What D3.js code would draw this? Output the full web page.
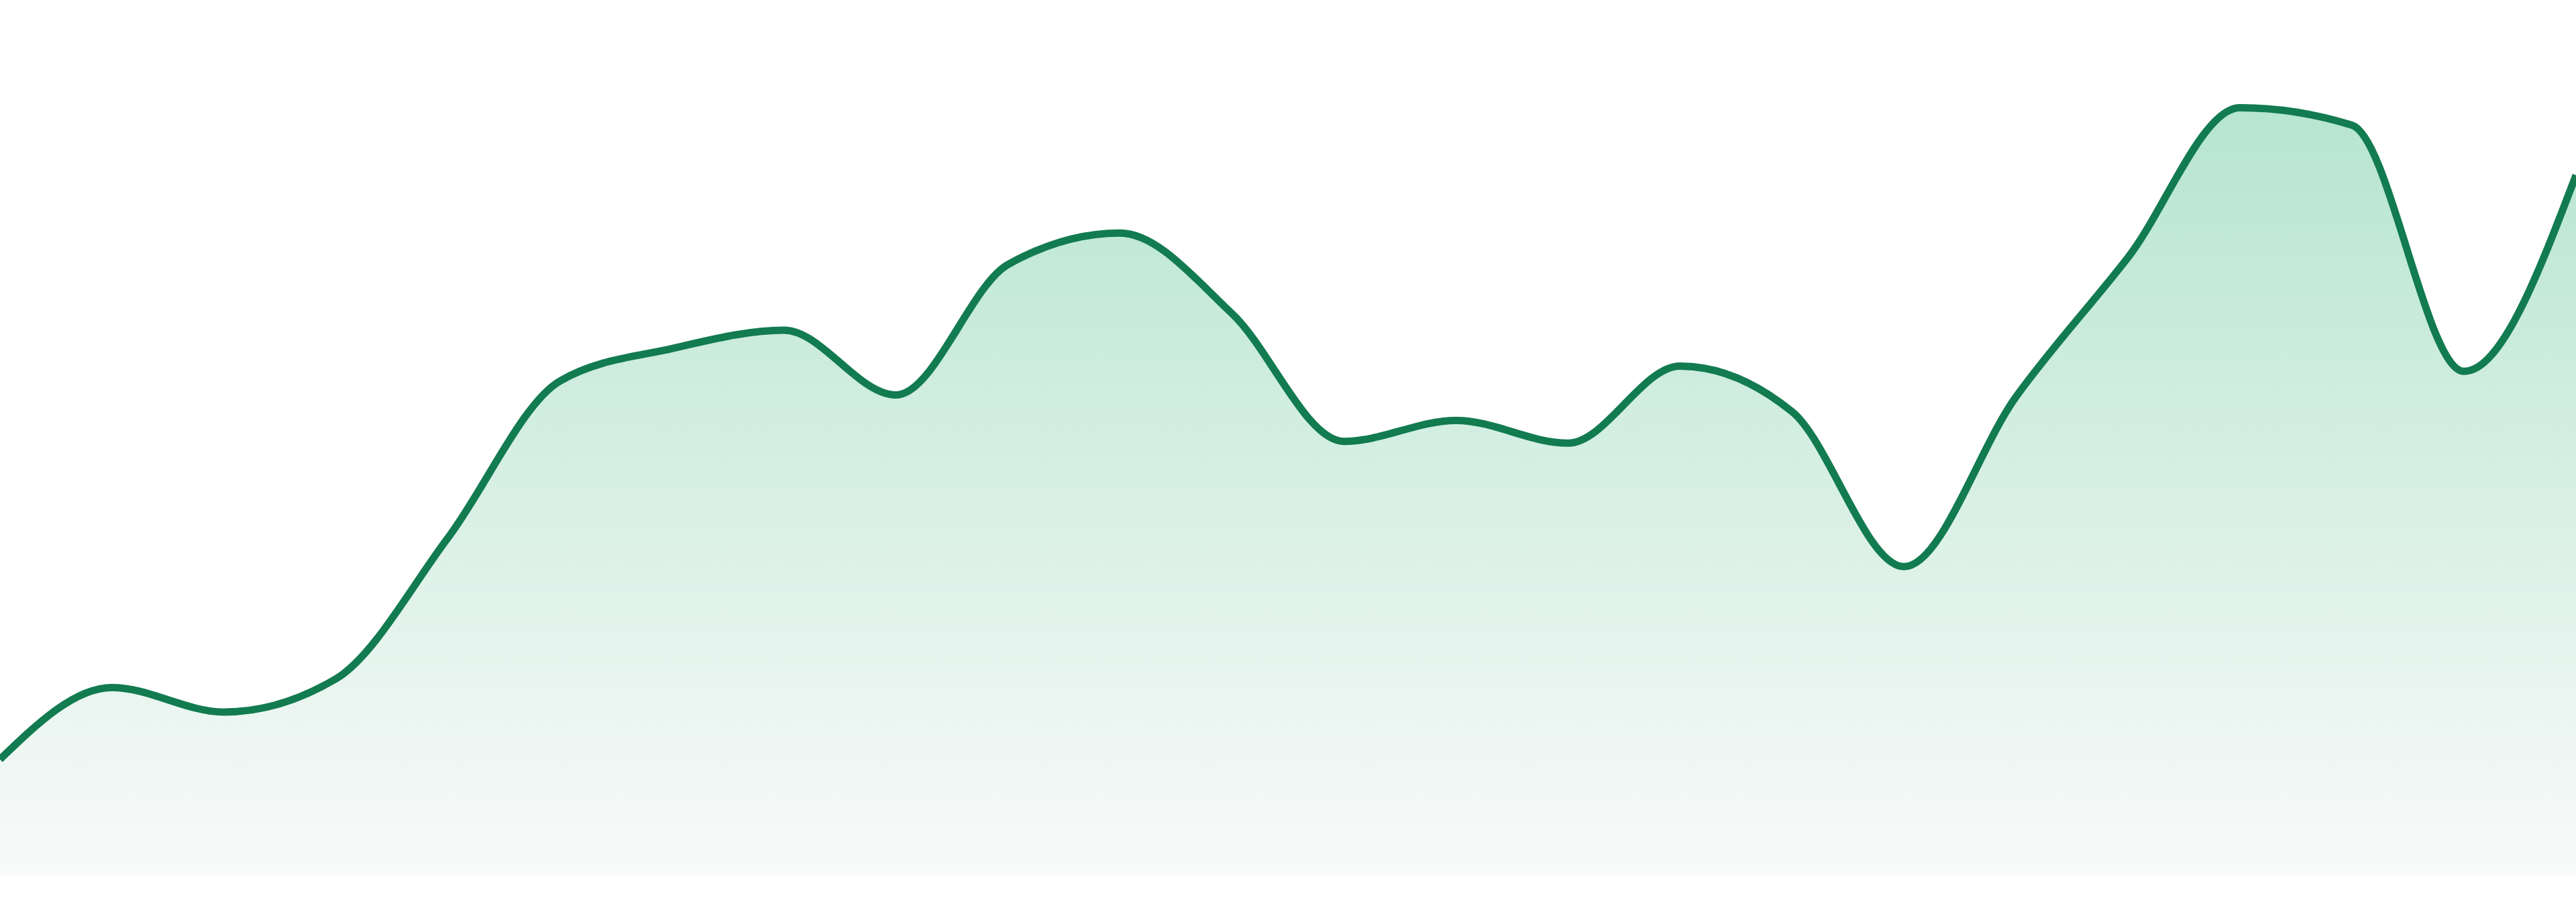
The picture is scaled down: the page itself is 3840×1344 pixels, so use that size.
<!DOCTYPE html>
<html>
<head>
<meta charset="utf-8">
<script src="https://cdn.jsdelivr.net/npm/d3@7"></script>
<style>
  html, body { margin: 0; padding: 0; background: #fff; overflow: hidden; }
  svg { display: block; }
</style>
</head>
<body>
<div id="root"></div>
<script>
const width = 3840;
const height = 1344;

// one value per day
const days = [1, 2, 3, 4, 5, 6, 7, 8, 9, 10, 11, 12, 13, 14, 15, 16, 17, 18, 19, 20, 21, 22, 23, 24];
const values = [13.3, 21.5, 18.7, 22.5, 38.6, 56.5, 60.2, 62.3, 54.9, 69.8, 73.4, 64.2,
  49.6, 52.0, 49.4, 58.2, 53.0, 35.3, 54.7, 70.6, 87.7, 85.7, 57.6, 80.0];

const data = days.map((d, i) => ({ day: d, value: values[i] }));

const x = d3.scalePoint().domain(days).range([0, width]);
const y = d3.scaleLinear().domain([0, 100]).range([1305, 0]);

const svg = d3
  .select("#root")
  .append("svg")
  .attr("width", width)
  .attr("height", height)
  .attr("viewBox", [0, 0, width, height]);

const grad = svg
  .append("defs")
  .append("linearGradient")
  .attr("id", "fade")
  .attr("gradientUnits", "userSpaceOnUse")
  .attr("x1", 0)
  .attr("x2", 0)
  .attr("y1", y(d3.max(values)))
  .attr("y2", y(0));

grad.append("stop").attr("offset", 0).attr("stop-color", "#b6e5d0");
grad.append("stop").attr("offset", 1).attr("stop-color", "#f9fafa");

const area = d3
  .area()
  .x((d) => x(d.day))
  .y0(y(0))
  .y1((d) => y(d.value))
  .curve(d3.curveMonotoneX);

const line = d3
  .line()
  .x((d) => x(d.day))
  .y((d) => y(d.value))
  .curve(d3.curveMonotoneX);

svg.append("path").datum(data).attr("d", area).attr("fill", "url(#fade)");

svg
  .append("path")
  .datum(data)
  .attr("d", line)
  .attr("fill", "none")
  .attr("stroke", "#127b50")
  .attr("stroke-width", 11)
  .attr("stroke-linejoin", "round");
</script>
</body>
</html>
